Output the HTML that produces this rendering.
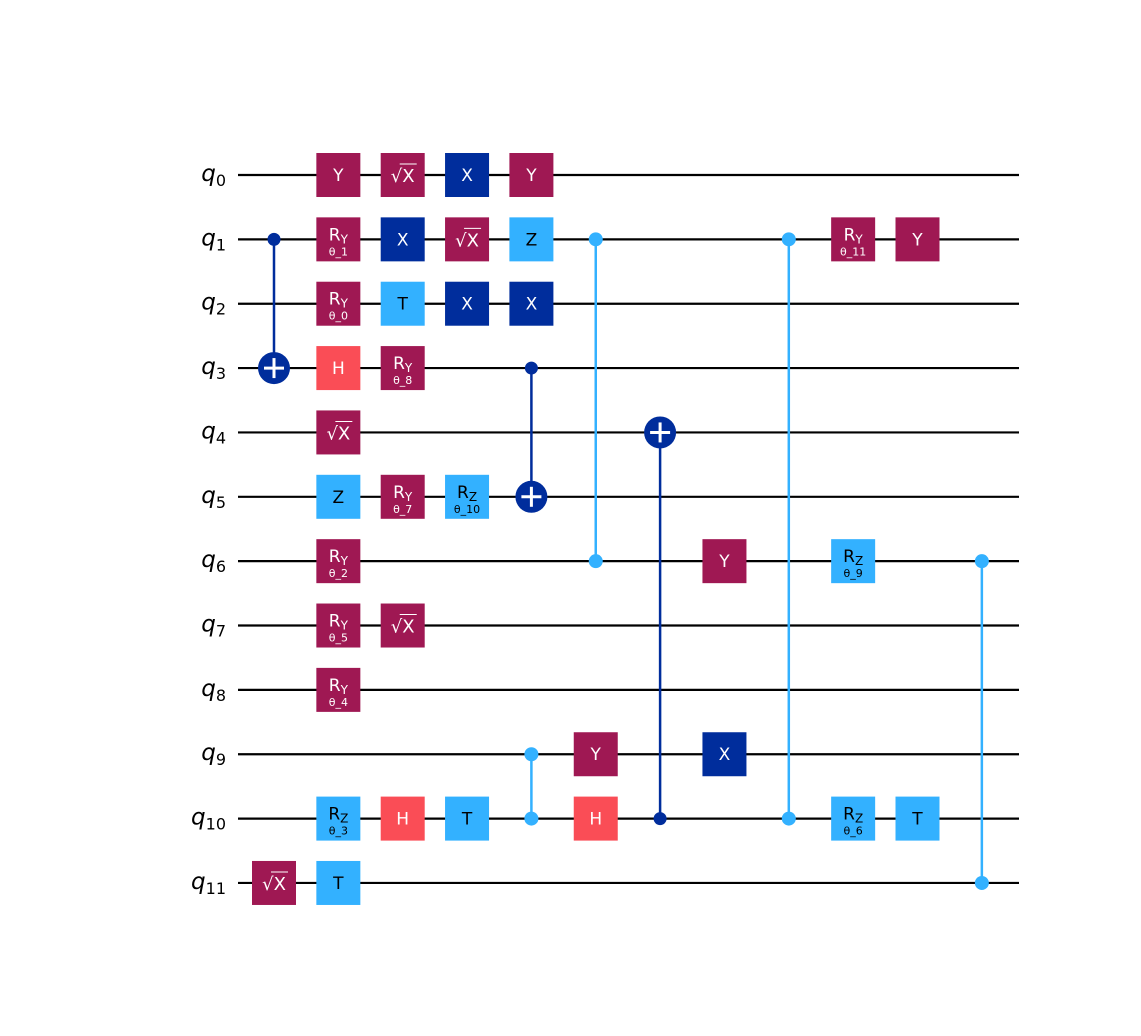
<!DOCTYPE html>
<html><head><meta charset="utf-8"><style>
html,body{margin:0;padding:0;background:#fff;}
svg{display:block;}
</style></head><body>
<svg id="c" width="1141" height="1036" viewBox="0 0 1141 1036" xmlns="http://www.w3.org/2000/svg"></svg>
<script>
const qubits = [0,1,2,3,4,5,6,7,8,9,10,11];
const gates = [
 [0,11,'sx'],
 [1,0,'Y'],[1,1,'RY','θ_1'],[1,2,'RY','θ_0'],[1,3,'H'],[1,4,'sx'],[1,5,'Z'],[1,6,'RY','θ_2'],[1,7,'RY','θ_5'],[1,8,'RY','θ_4'],[1,10,'RZ','θ_3'],[1,11,'T'],
 [2,0,'sx'],[2,1,'X'],[2,2,'T'],[2,3,'RY','θ_8'],[2,5,'RY','θ_7'],[2,7,'sx'],[2,10,'H'],
 [3,0,'X'],[3,1,'sx'],[3,2,'X'],[3,5,'RZ','θ_10'],[3,10,'T'],
 [4,0,'Y'],[4,1,'Z'],[4,2,'X'],
 [5,9,'Y'],[5,10,'H'],
 [7,6,'Y'],[7,9,'X'],
 [9,1,'RY','θ_11'],[9,6,'RZ','θ_9'],[9,10,'RZ','θ_6'],
 [10,1,'Y'],[10,10,'T']
];
const cxs = [[0,1,3],[4,3,5],[6,10,4]];
const czs = [[4,9,10],[5,1,6],[8,1,10],[11,6,11]];
const P='#9F1853',DB='#002D9C',LB='#33B1FF',R='#FA4D56';
const colorOf={Y:P,sx:P,RY:P,X:DB,Z:LB,T:LB,RZ:LB,H:R};
const NS='http://www.w3.org/2000/svg';
const svg=document.getElementById('c');
const xOf=c=>274+c*64.35, yOf=q=>175+q*64.36;
function el(t,a,p){const e=document.createElementNS(NS,t);for(const k in a)e.setAttribute(k,a[k]);(p||svg).appendChild(e);return e;}
qubits.forEach(q=>{
 const w=el('line',{x1:238,x2:1019,y1:yOf(q),y2:yOf(q),stroke:'#000','stroke-width':2.2});
 
 
 const t=el('text',{x:226,y:yOf(q)+6,'text-anchor':'end','font-family':'DejaVu Sans, sans-serif','font-size':23});
 
 
 const a=el('tspan',{'font-style':'italic'},t);a.textContent='q';
 const b=el('tspan',{'font-size':16,dy:5},t);b.textContent=q;
});
function ctrlLine(c,q1,q2,col){el('line',{x1:xOf(c),x2:xOf(c),y1:yOf(q1),y2:yOf(q2),stroke:col,'stroke-width':2.5});}
czs.forEach(([c,a,b])=>{
 ctrlLine(c,a,b,LB);
 [a,b].forEach(q=>{const d=el('circle',{cx:xOf(c),cy:yOf(q),r:7,fill:LB});
 
 });
});
cxs.forEach(([c,ct,tg])=>{
 ctrlLine(c,ct,tg,DB);
 const d=el('circle',{cx:xOf(c),cy:yOf(ct),r:6.5,fill:DB});
 
 
 const g=el('g',{});
 
 
 const x=xOf(c),y=yOf(tg);
 el('circle',{cx:x,cy:y,r:16,fill:DB},g);
 el('line',{x1:x-10,x2:x+10,y1:y,y2:y,stroke:'#fff','stroke-width':3},g);
 el('line',{x1:x,x2:x,y1:y-10,y2:y+10,stroke:'#fff','stroke-width':3},g);
});
gates.forEach(([c,q,n,p])=>{
 const x=xOf(c),y=yOf(q),col=colorOf[n],tc=col===LB?'#000':'#fff';
 const g=el('g',{});
 
 
 el('rect',{x:x-22,y:y-22,width:44,height:44,fill:col},g);
 const f='DejaVu Sans, sans-serif';
 if(n==='sx'){
  const t=el('text',{x:x,y:y+7,'text-anchor':'middle','font-family':f,'font-size':18,fill:tc},g);t.textContent='√X';
  el('line',{x1:x-3,x2:x+14,y1:y-11,y2:y-11,stroke:tc,'stroke-width':1},g);
 } else if(n==='RY'||n==='RZ'){
  const t=el('text',{x:x,y:y+1,'text-anchor':'middle','font-family':f,'font-size':17,fill:tc},g);
  const a=el('tspan',{},t);a.textContent='R';
  const b=el('tspan',{'font-size':12,dy:3},t);b.textContent=n[1];
  const s=el('text',{x:x,y:y+16,'text-anchor':'middle','font-family':f,'font-size':11,fill:tc},g);s.textContent=p;
 } else {
  const t=el('text',{x:x,y:y+6,'text-anchor':'middle','font-family':f,'font-size':17,fill:tc},g);t.textContent=n;
 }
});
</script>
</body></html>
